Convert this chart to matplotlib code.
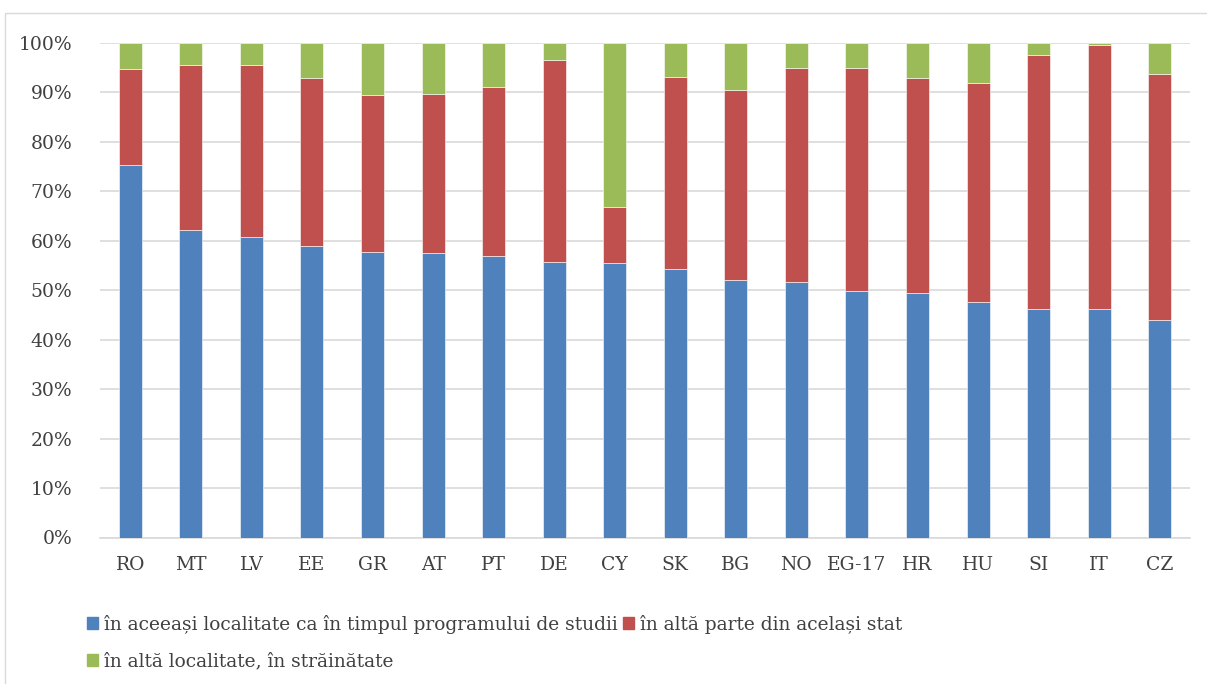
import matplotlib.pyplot as plt
from matplotlib.patches import Rectangle, Patch
from matplotlib.ticker import PercentFormatter
import numpy as np

# values (percent)
countries = ['RO', 'MT', 'LV', 'EE', 'GR', 'AT', 'PT', 'DE', 'CY',
             'SK', 'BG', 'NO', 'EG-17', 'HR', 'HU', 'SI', 'IT', 'CZ']
same_place = [75.3, 62.1, 60.7, 58.9, 57.7, 57.6, 56.9, 55.7, 55.6,
              54.3, 52.1, 51.7, 49.8, 49.4, 47.6, 46.3, 46.3, 43.9]
other_region = [19.5, 33.5, 34.8, 34.1, 31.8, 32.1, 34.3, 40.9, 11.2,
                38.9, 38.4, 43.3, 45.2, 43.6, 44.3, 51.2, 53.2, 49.9]
abroad = [5.2, 4.4, 4.5, 7.0, 10.5, 10.3, 8.8, 3.4, 33.2,
          6.8, 9.5, 5.0, 5.0, 7.0, 8.1, 2.5, 0.5, 6.2]

labels = ['în aceeași localitate ca în timpul programului de studii',
          'în altă parte din același stat',
          'în altă localitate, în străinătate']
colors = ['#4F81BD', '#C0504D', '#9BBB59']

plt.rcParams['font.family'] = ['DejaVu Serif']

fig = plt.figure(figsize=(12.07, 6.84), dpi=100)
ax = fig.add_axes([100 / 1207, 1 - 537.5 / 684, 1090 / 1207, 494.5 / 684])

x = np.arange(len(countries))
w = 0.38
ax.bar(x, same_place, w, color=colors[0], edgecolor='white', linewidth=0.4, zorder=3)
ax.bar(x, other_region, w, bottom=same_place, color=colors[1],
       edgecolor='white', linewidth=0.4, zorder=3)
bottom3 = np.array(same_place) + np.array(other_region)
ax.bar(x, abroad, w, bottom=bottom3, color=colors[2],
       edgecolor='white', linewidth=0.4, zorder=3)

ax.set_xlim(-0.5, len(countries) - 0.5)
ax.set_ylim(0, 100)
ax.set_yticks(np.arange(0, 101, 10))
ax.yaxis.set_major_formatter(PercentFormatter(decimals=0))
ax.grid(axis='y', color='#d9d9d9', linewidth=1.2, zorder=0)
ax.set_xticks(x)
ax.set_xticklabels(countries)
ax.tick_params(axis='both', length=0, labelsize=13.5, colors='#404040')
ax.tick_params(axis='x', pad=13)
ax.tick_params(axis='y', pad=20)
for s in ['top', 'right', 'left']:
    ax.spines[s].set_visible(False)
ax.spines['bottom'].set_color('#d9d9d9')
ax.spines['bottom'].set_linewidth(1.2)

handles = [Patch(color=c) for c in colors]
order = [0, 2, 1]
fig.legend([handles[i] for i in order], [labels[i] for i in order],
           ncol=2, loc='upper left', bbox_to_anchor=(70 / 1207, 1 - 598 / 684),
           frameon=False, fontsize=13.4, handlelength=0.6, handleheight=0.6,
           handletextpad=0.3, columnspacing=0.3, labelspacing=1.0,
           labelcolor='#404040')

fig.add_artist(Rectangle((5 / 1207, -0.01), 1.01, 1 - 13 / 684 + 0.01,
                         transform=fig.transFigure, fill=False,
                         edgecolor='#d9d9d9', linewidth=1))

fig.savefig('out.png', dpi=100)
